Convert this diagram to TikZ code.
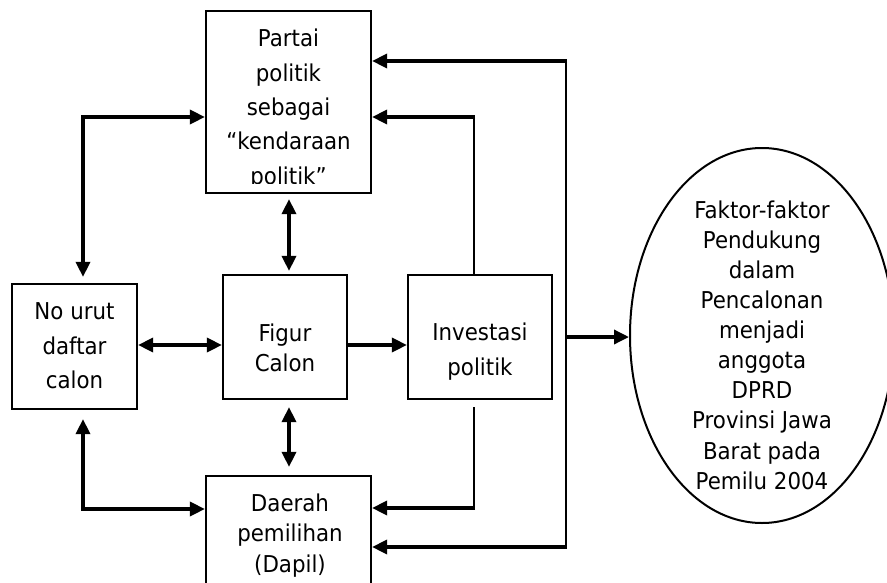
\documentclass[tikz,border=0pt]{standalone}
\usepackage{fontspec}
\setmainfont{DejaVu Sans}[FakeStretch=0.92]
\usetikzlibrary{arrows.meta,shapes.geometric}
\begin{document}
\begin{tikzpicture}[x=1pt,y=-1pt,
  box/.style={draw,line width=2.2pt,rectangle,inner sep=0pt},
  txtA/.style={align=center,inner sep=0pt,font=\fontsize{23.2}{34.3}\selectfont},
  txtB/.style={align=center,inner sep=0pt,font=\fontsize{23.2}{30.1}\selectfont},
  tip/.tip={Triangle[length=15pt,width=14pt]},
  conn/.style={line width=3.4pt,-tip},
  dbl/.style={line width=3.4pt,tip-tip},
  thin/.style={line width=2.2pt}
]
\clip (0,0) rectangle (887,582);
% boxes
\node[box,minimum width=165pt,minimum height=182pt] (partai) at (288.5,102) {};
\node[box,minimum width=125pt,minimum height=125pt] (nourut) at (74.5,346.5) {};
\node[box,minimum width=124pt,minimum height=124pt] (figur) at (285,337) {};
\node[box,minimum width=144pt,minimum height=124pt] (invest) at (480,337) {};
\node[box,minimum width=165pt,minimum height=182pt] (daerah) at (288.5,567) {};
\node[draw,ellipse,line width=2pt,minimum width=264pt,minimum height=375pt,inner sep=0pt] (goal) at (762,335.5) {};
% texts
\begin{scope}
\clip (206,11) rectangle (371,183);
\node[txtA] (partaitxt) at (288.5,109) {Partai\\politik\\sebagai\\“kendaraan\\politik”};
\end{scope}
\node[txtA] (nouruttxt) at (74.5,346) {No urut\\daftar\\calon};
\node[txtB] (figurtxt) at (285,348) {Figur\\Calon};
\node[txtA] (investtxt) at (480,351.5) {Investasi\\politik};
\node[txtB] (daerahtxt) at (290,535.5) {Daerah\\pemilihan\\(Dapil)};
\node[txtB] (goaltxt) at (762,345) {Faktor-faktor\\Pendukung\\dalam\\Pencalonan\\menjadi\\anggota\\DPRD\\Provinsi Jawa\\Barat pada\\Pemilu 2004};
% corner points
\coordinate (c1) at (83,117);
\coordinate (c2) at (83,509);
\coordinate (c3) at (474,117);
\coordinate (c4) at (474,508);
\coordinate (c5) at (566,61);
\coordinate (c6) at (566,547);
\coordinate (c7) at (566,337);
\coordinate (m1) at (289,0);
% connectors
\draw[dbl,shorten <=6pt] (c1 |- nourut.north) -- (c1) -- (c1 -| partai.west);
\draw[dbl,shorten <=9pt] (c2 |- nourut.south) -- (c2) -- (c2 -| daerah.west);
\draw[dbl,shorten <=5pt,shorten >=3pt] (m1 |- partai.south) -- (m1 |- figur.north);
\draw[dbl,shorten <=7pt,shorten >=8pt] (m1 |- figur.south) -- (m1 |- daerah.north);
\draw[dbl] (nourut.east |- 0,345) -- (figur.west |- 0,345);
\draw[conn] (figur.east |- 0,345) -- (invest.west |- 0,345);
\draw[thin] (c3 |- invest.north) -- (c3);
\draw[conn] ([xshift=1pt]c3) -- (c3 -| partai.east);
\draw[thin,shorten <=7pt] (c4 |- invest.south) -- (c4);
\draw[conn] ([xshift=1pt]c4) -- (c4 -| daerah.east);
\draw[thin] (c5) -- (c6);
\draw[conn] ([xshift=1pt]c5) -- (c5 -| partai.east);
\draw[conn] ([xshift=1pt]c6) -- (c6 -| daerah.east);
\draw[conn] (c7) -- (c7 -| goal.west);
\end{tikzpicture}
\end{document}
